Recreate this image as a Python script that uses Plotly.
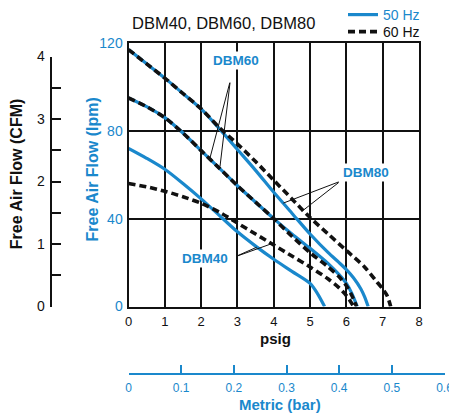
import plotly.graph_objects as go

# ---------------- data ----------------
# pressure (psig) and free air flow (lpm)
dbm80_50_psig = [0, 0.5, 1, 1.5, 2, 2.5, 3, 3.5, 4, 4.5, 5, 5.5, 5.8, 6.0, 6.2, 6.4, 6.5, 6.6]
dbm80_50_lpm  = [117, 110.5, 104, 97, 90, 81, 71.5, 62, 52, 42.5, 33, 24.5, 20, 16.8, 13, 8, 4.5, 0]

dbm80_60_psig = [0, 0.5, 1, 1.5, 2, 2.5, 3, 3.5, 4, 4.5, 5, 5.5, 6, 6.5, 6.8, 7.0, 7.12, 7.22]
dbm80_60_lpm  = [117, 110.5, 104, 97, 90, 81.5, 74, 66, 57.5, 49, 40.5, 33, 25.5, 18, 12, 8, 5, 0]

dbm60_50_psig = [0, 0.5, 1, 1.5, 2, 2.5, 3, 3.5, 4, 4.5, 5, 5.5, 5.8, 6.0, 6.15, 6.3]
dbm60_50_lpm  = [95, 91, 86, 79, 71, 63, 55, 47.5, 40, 33, 26.5, 19.5, 14.5, 10.5, 6, 0]

dbm60_60_psig = [0, 0.5, 1, 1.5, 2, 2.5, 3, 3.5, 4, 4.5, 5, 5.5, 5.8, 6.0, 6.15, 6.28]
dbm60_60_lpm  = [95, 91, 86, 79, 71, 63, 55, 47.5, 40, 32, 24.5, 18, 13.5, 9.5, 5, 0]

dbm40_50_psig = [0, 0.5, 1, 1.5, 2, 2.5, 3, 3.5, 4, 4.5, 5, 5.2, 5.4]
dbm40_50_lpm  = [72, 67.5, 62.5, 56, 49, 41.5, 34, 27.5, 21.5, 16, 10.5, 6, 0]

dbm40_60_psig = [0, 0.5, 1, 1.5, 2, 2.5, 3, 3.5, 4, 4.5, 5, 5.5, 5.8, 6.0, 6.2]
dbm40_60_lpm  = [56, 54.5, 52.5, 50, 47, 43, 38, 33, 28, 23, 18, 12.5, 8.5, 5, 0]

psig_ticks = [0, 1, 2, 3, 4, 5, 6, 7, 8]
lpm_ticks = [0, 40, 80, 120]
cfm_ticks = [0, 1, 2, 3, 4]
bar_ticks = [0, 0.1, 0.2, 0.3, 0.4, 0.5, 0.6]
bar_labels = ["0", "0.1", "0.2", "0.3", "0.4", "0.5", "0.6"]

PSIG_PER_BAR = 14.5038

# ---------------- styling ----------------
BLUE = "#1a88cc"
BLACK = "#111111"
FONT = "Liberation Sans, Arial, Helvetica, sans-serif"
W, H = 449, 414

# plot area in pixels
PX0, PX1 = 128.5, 419.0
PY_TOP, PY_BOT = 43.0, 306.5

xd0, xd1 = PX0 / W, PX1 / W
yd0, yd1 = 1 - PY_BOT / H, 1 - PY_TOP / H

fig = go.Figure()

blue_line = dict(color=BLUE, width=3.2)
dash_line = dict(color=BLACK, width=3.6, dash="7px,4px")

for i, (xs, ys) in enumerate([(dbm80_50_psig, dbm80_50_lpm),
                               (dbm60_50_psig, dbm60_50_lpm),
                               (dbm40_50_psig, dbm40_50_lpm)]):
    fig.add_trace(go.Scatter(x=xs, y=ys, mode="lines", line=dict(**blue_line, shape="spline", smoothing=0.8),
                             name='<span style="color:%s">50 Hz</span>' % BLUE, legend="legend",
                             showlegend=(i == 0), hoverinfo="skip"))
for i, (xs, ys) in enumerate([(dbm80_60_psig, dbm80_60_lpm),
                               (dbm60_60_psig, dbm60_60_lpm),
                               (dbm40_60_psig, dbm40_60_lpm)]):
    fig.add_trace(go.Scatter(x=xs, y=ys, mode="lines", line=dict(**dash_line, shape="spline", smoothing=0.8),
                             name="60 Hz", legend="legend2", showlegend=(i == 0), hoverinfo="skip"))

# bar axis spans 0..0.6 bar, converted to pixels via psig scale
bar_px_end = PX0 + (PX1 - PX0) * (0.6 * PSIG_PER_BAR / 8)
cfm_top = 1 - 56.5 / H

leg = dict(xanchor="left", yanchor="middle", bgcolor="rgba(0,0,0,0)",
           font=dict(size=14, color=BLACK), itemwidth=30, borderwidth=0)

fig.update_layout(
    width=W, height=H, autosize=False,
    margin=dict(l=0, r=0, t=0, b=0, pad=0, autoexpand=False),
    paper_bgcolor="white", plot_bgcolor="white",
    font=dict(family=FONT, size=13, color=BLACK),
    showlegend=True,
    legend=dict(x=343 / W, y=1 - 15 / H, **leg),
    legend2=dict(x=343 / W, y=1 - 32 / H, **leg),
    xaxis=dict(domain=[xd0, xd1], range=[0, 8], tickvals=psig_ticks,
               ticktext=[str(v) for v in psig_ticks], automargin=False,
               showgrid=True, gridcolor=BLACK, gridwidth=2,
               showline=True, linecolor=BLACK, linewidth=2, mirror=True,
               zeroline=False, ticks="", ticklabelstandoff=2,
               tickfont=dict(size=13, color=BLACK), fixedrange=True),
    yaxis=dict(domain=[yd0, yd1], range=[0, 120], tickvals=lpm_ticks,
               ticktext=[str(v) for v in lpm_ticks], automargin=False,
               showgrid=True, gridcolor=BLACK, gridwidth=2,
               showline=True, linecolor=BLACK, linewidth=2, mirror=True,
               zeroline=False, ticks="", ticklabelstandoff=1,
               tickfont=dict(size=14, color=BLUE), fixedrange=True),
    yaxis2=dict(domain=[yd0, cfm_top], range=[0, 4], anchor="free",
                position=50.7 / W, side="left", tickvals=cfm_ticks,
                ticktext=[str(v) for v in cfm_ticks], automargin=False,
                showgrid=False, zeroline=False, showline=True,
                linecolor=BLACK, linewidth=2, ticks="inside", ticklen=9,
                tickwidth=2, tickcolor=BLACK,
                minor=dict(dtick=0.5, ticks="inside", ticklen=9, tickwidth=2, tickcolor=BLACK, showgrid=False),
                ticklabelstandoff=2,
                tickfont=dict(size=14, color=BLACK), fixedrange=True),
    xaxis2=dict(domain=[xd0, bar_px_end / W], range=[0, 0.6], anchor="free",
                position=1 - 374 / H, side="bottom", tickvals=bar_ticks,
                ticktext=bar_labels, showgrid=False, zeroline=False, automargin=False,
                showline=True, linecolor=BLUE, linewidth=2, ticks="inside",
                ticklen=8, tickwidth=2, tickcolor=BLUE, ticklabelstandoff=3,
                ticklabeloverflow="allow",
                tickfont=dict(size=12, color=BLUE), fixedrange=True),
    xaxis3=dict(domain=[0, 0.02], range=[0, 1], visible=False, anchor="y2", automargin=False),
    yaxis3=dict(domain=[0, 0.02], range=[0, 1], visible=False, anchor="x2", automargin=False),
)

# invisible traces so the secondary axes are created
fig.add_trace(go.Scatter(x=[0.0, 0.6], y=[None, None], xaxis="x2", yaxis="y3",
                         showlegend=False, hoverinfo="skip", line=dict(width=0)))
fig.add_trace(go.Scatter(x=[None, None], y=[0, 4], xaxis="x3", yaxis="y2",
                         showlegend=False, hoverinfo="skip", line=dict(width=0)))

ann = []
def text(xp, yp, s, size, color, bold=False, angle=0, xanchor="center"):
    ann.append(dict(x=xp / W, y=1 - yp / H, xref="paper", yref="paper",
                    text=("<b>%s</b>" % s) if bold else s, showarrow=False,
                    font=dict(size=size, color=color, family=FONT),
                    textangle=angle, xanchor=xanchor, yanchor="middle"))

text(130, 22.5, "DBM40, DBM60, DBM80", 16.5, BLACK, xanchor="left")
text(16.7, 173.5, "Free Air Flow (CFM)", 16, BLACK, bold=True, angle=-90)
text(91.5, 170, "Free Air Flow (lpm)", 16, BLUE, bold=True, angle=-90)
text(275, 338, "psig", 15, BLACK, bold=True)
text(280, 404, "Metric (bar)", 15, BLUE, bold=True)

# curve labels (data coords) and leader lines
labels = [("DBM60", 2.95, 112.1), ("DBM80", 6.53, 61.2), ("DBM40", 2.12, 21.7)]
for s, lx, ly in labels:
    ann.append(dict(x=lx, y=ly, xref="x", yref="y", text="<b>%s</b>" % s, showarrow=False,
                    font=dict(size=13.5, color=BLUE, family=FONT), bgcolor="white"))

leaders = [((2.80, 102.6), (2.245, 67.7)), ((2.80, 102.6), (2.52, 63.8)),
           ((5.83, 57.0), (4.264, 47.1)), ((5.83, 57.0), (4.771, 43.3)),
           ((2.93, 22.6), (3.532, 27.0)), ((2.93, 22.6), (3.926, 28.5))]
for (tx, ty), (hx, hy) in leaders:
    ann.append(dict(x=hx, y=hy, ax=tx, ay=ty, xref="x", yref="y", axref="x", ayref="y",
                    text="", showarrow=True, arrowhead=0, arrowwidth=1, arrowcolor=BLACK,
                    standoff=0, startstandoff=0))

fig.update_layout(annotations=ann)
fig.write_html("out.html", config={"displayModeBar": False, "staticPlot": True},
               post_script="document.body.style.margin='0';document.body.style.padding='0';")
